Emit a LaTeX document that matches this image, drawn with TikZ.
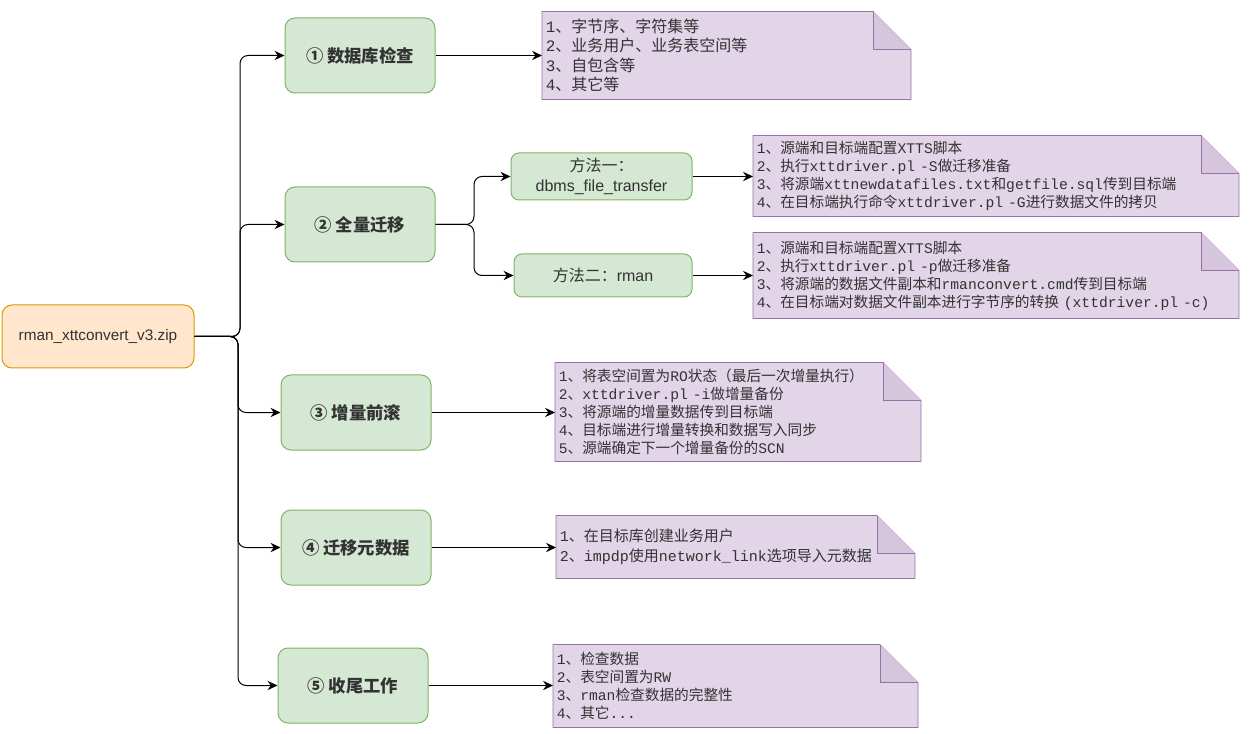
\documentclass[tikz,border=0pt]{standalone}
\usepackage{fontspec}
\setmainfont{Liberation Sans}
\setmonofont{Liberation Mono}
\newfontfamily\cjk{Noto Sans CJK SC}
\usetikzlibrary{arrows.meta,backgrounds,calc}
\definecolor{greenfill}{HTML}{D5E8D4}
\definecolor{greendraw}{HTML}{82B366}
\definecolor{orangefill}{HTML}{FFE6CC}
\definecolor{orangedraw}{HTML}{D79B00}
\definecolor{notefill}{HTML}{E1D5E7}
\definecolor{notedraw}{HTML}{9673A6}
\colorlet{notefold}{notefill!85!notedraw}
\definecolor{txt}{HTML}{333333}
\newcommand{\tm}[1]{\texttt{#1}}

\begin{document}
\begin{tikzpicture}[x=0.75pt,y=-0.75pt,line width=0.75pt,
    >={Stealth[length=7.5pt,width=7pt,inset=2.5pt]},
    stage/.style={draw=greendraw,fill=greenfill,rounded corners=7.5pt,minimum width=112.5pt,minimum height=56.25pt,text=txt,font=\cjk\bfseries\fontsize{13}{15}\selectfont},
    method/.style={draw=greendraw,fill=greenfill,rounded corners=6pt,align=center,text=txt,font=\fontsize{12}{15}\selectfont},
    note/.style={anchor=west,inner xsep=2.5pt,inner ysep=0pt,align=left,text=txt,font=\cjk\fontsize{11}{13.5}\selectfont},
    link/.style={->,black},
    branch/.style={->,black,rounded corners=6pt}]
  \useasboundingbox (0,0) rectangle (1250,734);

  % start package
  \node[draw=orangedraw,fill=orangefill,rounded corners=7.5pt,minimum width=144pt,minimum height=47.25pt,text=txt,font=\fontsize{11.5}{14}\selectfont] (root) at (98,336.5) {rman\_xttconvert\_v3.zip};

  % the five stages
  \node[stage] (s1) at (360,55.5) {① 数据库检查};
  \node[stage] (s2) at (360,224.5) {② 全量迁移};
  \node[stage] (s3) at (356,412.5) {③ 增量前滚};
  \node[stage] (s4) at (356,547.5) {④ 迁移元数据};
  \node[stage] (s5) at (353,685.5) {⑤ 收尾工作};

  % two ways for the full copy
  \node[method,minimum width=135.75pt,minimum height=35.25pt] (m1) at (601.5,176.5) {{\cjk 方法一：}\\dbms\_file\_transfer};
  \node[method,minimum width=133.5pt,minimum height=32.25pt] (m2) at (603,275.5) {{\cjk 方法二：}rman};

  % notes
  \node[note,text width=271pt,minimum height=65.25pt,font=\cjk\fontsize{12}{14.5}\selectfont] (n1) at (542,55.5) {%
    \tm{1}、字节序、字符集等\\
    \tm{2}、业务用户、业务表空间等\\
    \tm{3}、自包含等\\
    \tm{4}、其它等};
  \node[note,text width=358.75pt,minimum height=60pt] (n2a) at (753,176) {%
    \tm{1}、源端和目标端配置\tm{XTTS}脚本\\
    \tm{2}、执行\tm{xttdriver.pl -S}做迁移准备\\
    \tm{3}、将源端\tm{xttnewdatafiles.txt}和\tm{getfile.sql}传到目标端\\
    \tm{4}、在目标端执行命令\tm{xttdriver.pl -G}进行数据文件的拷贝};
  \node[note,text width=358.75pt,minimum height=63.75pt] (n2b) at (753,275.5) {%
    \tm{1}、源端和目标端配置\tm{XTTS}脚本\\
    \tm{2}、执行\tm{xttdriver.pl -p}做迁移准备\\
    \tm{3}、将源端的数据文件副本和\tm{rmanconvert.cmd}传到目标端\\
    \tm{4}、在目标端对数据文件副本进行字节序的转换\tm{ (xttdriver.pl -c)}};
  \node[note,text width=268.75pt,minimum height=73.5pt] (n3) at (555,412) {%
    \tm{1}、将表空间置为\tm{RO}状态（最后一次增量执行）\\
    \tm{2}、\tm{xttdriver.pl -i}做增量备份\\
    \tm{3}、将源端的增量数据传到目标端\\
    \tm{4}、目标端进行增量转换和数据写入同步\\
    \tm{5}、源端确定下一个增量备份的\tm{SCN}};
  \node[note,text width=263.5pt,minimum height=46.5pt,font=\cjk\fontsize{11.25}{15}\selectfont] (n4) at (556,547) {%
    \tm{1}、在目标库创建业务用户\\
    \tm{2}、\tm{impdp}使用\tm{network\_link}选项导入元数据};
  \node[note,text width=268pt,minimum height=61.5pt] (n5) at (553,686) {%
    \tm{1}、检查数据\\
    \tm{2}、表空间置为\tm{RW}\\
    \tm{3}、\tm{rman}检查数据的完整性\\
    \tm{4}、其它\tm{...}};

  % note paper with folded corner
  \begin{scope}[on background layer]
    \foreach \n in {n1,n2a,n2b,n3,n4,n5}{
      \filldraw[fill=notefill,draw=notedraw] (\n.south west) -- (\n.north west) -- ($(\n.north east)+(-38,0)$) -- ($(\n.north east)+(0,38)$) -- (\n.south east) -- cycle;
      \filldraw[fill=notefold,draw=notedraw] ($(\n.north east)+(-38,0)$) -- ($(\n.north east)+(-38,38)$) -- ($(\n.north east)+(0,38)$);
    }
  \end{scope}

  % connectors
  \coordinate (trunkU) at (240,0);
  \coordinate (trunkD) at (238,0);
  \coordinate (split) at (474,0);
  \draw[branch] (root.east) -- (root.east -| trunkU) |- (s1.west);
  \draw[branch] (root.east) -- (root.east -| trunkU) |- (s2.west);
  \draw[branch] (root.east) -- (root.east -| trunkD) |- (s3.west);
  \draw[branch] (root.east) -- (root.east -| trunkD) |- (s4.west);
  \draw[branch] (root.east) -- (root.east -| trunkD) |- (s5.west);
  \draw[branch] (s2.east) -- (s2.east -| split) |- (m1.west);
  \draw[branch] (s2.east) -- (s2.east -| split) |- (m2.west);
  \foreach \a/\b in {s1/n1,m1/n2a,m2/n2b,s3/n3,s4/n4,s5/n5}
    \draw[link] (\a.east) -- (\a.east -| \b.west);
\end{tikzpicture}
\end{document}
